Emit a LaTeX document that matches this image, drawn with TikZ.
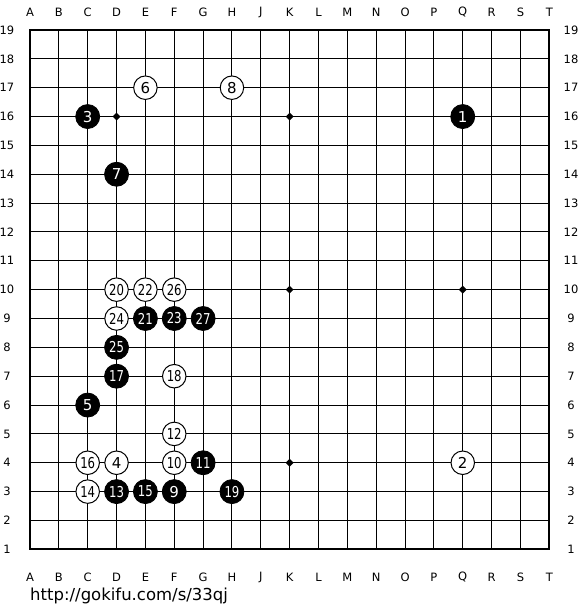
\documentclass[tikz,border=0pt]{standalone}
\usepackage{fontspec}
\usetikzlibrary{shapes.geometric}
\setmainfont{DejaVu Sans}
\begin{document}
\begin{tikzpicture}[x=1pt,y=-1pt,
  lbl/.style={inner sep=0pt,font=\fontsize{11.5}{11.5}\selectfont},
  bstone/.style={circle,fill=black,draw=black,line width=0.8pt,minimum size=24pt,inner sep=0pt,text=white,font=\fontsize{15}{15}\selectfont},
  wstone/.style={circle,fill=white,draw=black,line width=1pt,minimum size=23.5pt,inner sep=0pt,text=black,font=\fontsize{15}{15}\selectfont},
  twodig/.style={font=\fontsize{15}{15}\selectfont\addfontfeature{FakeStretch=0.78}},
  starpt/.style={diamond,fill=black,inner sep=0pt,minimum size=8pt}]
\useasboundingbox (0,0) rectangle (580,610);
\fill[white] (0,0) rectangle (580,610);
\def\gs{28.85}
% grid
\foreach \i in {1,...,17}{
  \draw[line width=1pt] ({30+\i*\gs},30) -- ({30+\i*\gs},549.3);
  \draw[line width=1pt] (30,{30+\i*\gs}) -- (549.3,{30+\i*\gs});
}
\draw[line width=2.2pt] (30,30) rectangle (549.3,549.3);
% labels
\foreach \l [count=\i from 0] in {A,B,C,D,E,F,G,H,J,K,L,M,N,O,P,Q,R,S,T}{
  \node[lbl] (top\l) at ({30+\i*\gs},12) {\l};
  \node[lbl] (bot\l) at ({30+\i*\gs},577) {\l};
}
\foreach \r in {1,...,19}{
  \node[lbl] (left\r) at (7,{549.3-(\r-1)*\gs}) {\r};
  \node[lbl] (right\r) at (571,{549.3-(\r-1)*\gs}) {\r};
}
% star points
\foreach \c/\r [count=\k] in {3/4,9/4,15/4,3/10,9/10,15/10,3/16,9/16,15/16}{
  \node[starpt] (star\k) at ({30+\c*\gs},{549.3-(\r-1)*\gs}) {};
}
% black stones
\foreach \n/\c/\r in {1/15/16,3/2/16,5/2/6,7/3/14,9/5/3}{
  \node[bstone] (m\n) at ({30+\c*\gs},{549.3-(\r-1)*\gs}) {\n};
}
\foreach \n/\c/\r in {11/6/4,13/3/3,15/4/3,17/3/7,19/7/3,21/4/9,23/5/9,25/3/8,27/6/9}{
  \node[bstone,twodig] (m\n) at ({30+\c*\gs},{549.3-(\r-1)*\gs}) {\n};
}
% white stones
\foreach \n/\c/\r in {2/15/4,4/3/4,6/4/17,8/7/17}{
  \node[wstone] (m\n) at ({30+\c*\gs},{549.3-(\r-1)*\gs}) {\n};
}
\foreach \n/\c/\r in {10/5/4,12/5/5,14/2/3,16/2/4,18/5/7,20/3/10,22/4/10,24/3/9,26/5/10}{
  \node[wstone,twodig] (m\n) at ({30+\c*\gs},{549.3-(\r-1)*\gs}) {\n};
}
\node[anchor=west,inner sep=0pt,font=\fontsize{16.5}{16.5}\selectfont] (url) at (30,596) {http://gokifu.com/s/33qj};
\end{tikzpicture}
\end{document}
